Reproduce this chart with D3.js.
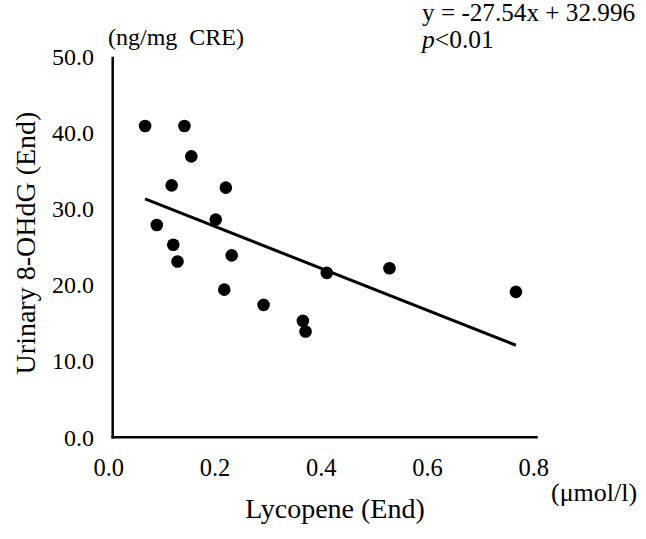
<!DOCTYPE html>
<html><head><meta charset="utf-8">
<script src="https://cdn.jsdelivr.net/npm/d3@7"></script>
<style>body{margin:0;background:#fff}svg{display:block}text{font-family:"Liberation Serif","Times New Roman",serif;fill:#000;white-space:pre}</style>
</head><body>
<svg id="c" width="646" height="539"></svg>
<script>
const lycopene = [0.061,0.135,0.148,0.111,0.213,0.083,0.194,0.114,0.122,0.224,0.210,0.284,0.358,0.363,0.403,0.521,0.759];
const ohdg     = [40.9,40.9,36.9,33.1,32.8,27.9,28.6,25.3,23.1,23.9,19.4,17.4,15.3,13.9,21.6,22.2,19.1];
const slope = -27.54, intercept = 32.996;
const xTicks = [0,0.2,0.4,0.6,0.8];
const yTicks = [0,10,20,30,40,50];
const equation = "y = -27.54x + 32.996";

const svg = d3.select("#c");
const x = d3.scaleLinear().domain([0,0.8]).range([112.7,537.7]);
const y = d3.scaleLinear().domain([0,50]).range([437.3,56.7]);

// axes lines
svg.append("line").attr("x1",x(0)).attr("x2",x(0)).attr("y1",y(0)+1.2).attr("y2",y(50)).attr("stroke","#000").attr("stroke-width",2.5);
svg.append("line").attr("x1",x(0)-1.2).attr("x2",x(0.8)).attr("y1",y(0)).attr("y2",y(0)).attr("stroke","#000").attr("stroke-width",2.5);

// tick labels
svg.selectAll(".xt").data(xTicks).enter().append("text")
  .attr("x",d=>x(d)-4).attr("y",476).attr("text-anchor","middle").attr("font-size",24.5)
  .text(d=>d3.format(".1f")(d));
svg.selectAll(".yt").data(yTicks).enter().append("text")
  .attr("x",94).attr("y",d=>y(d)+8.3).attr("text-anchor","end").attr("font-size",24)
  .text(d=>d3.format(".1f")(d));

// regression line
const ext = d3.extent(lycopene);
svg.append("line").attr("x1",x(ext[0])).attr("y1",y(slope*ext[0]+intercept))
  .attr("x2",x(ext[1])).attr("y2",y(slope*ext[1]+intercept)).attr("stroke","#000").attr("stroke-width",3);

// points
svg.selectAll(".pt").data(lycopene).enter().append("circle")
  .attr("cx",d=>x(d)).attr("cy",(d,i)=>y(ohdg[i])).attr("r",6.3).attr("fill","#000");

// labels
svg.append("text").attr("x",108).attr("y",45).attr("font-size",24).text("(ng/mg  CRE)");
svg.append("text").attr("x",422).attr("y",21).attr("font-size",25.2).text(equation);
const pt = svg.append("text").attr("x",422).attr("y",48).attr("font-size",25.5);
pt.append("tspan").attr("font-style","italic").text("p");
pt.append("tspan").text("<0.01");
svg.append("text").attr("x",551).attr("y",501).attr("font-size",26).text("(μmol/l)");
svg.append("text").attr("x",335).attr("y",518).attr("text-anchor","middle").attr("font-size",28).text("Lycopene (End)");
svg.append("text").attr("transform","translate(35,243) rotate(-90)").attr("text-anchor","middle").attr("font-size",28).text("Urinary 8-OHdG (End)");
</script>
</body></html>
